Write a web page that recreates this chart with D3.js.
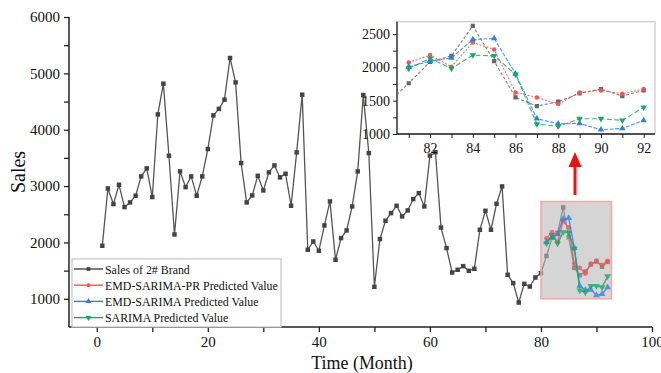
<!DOCTYPE html>
<html><head><meta charset="utf-8">
<script src="https://cdn.jsdelivr.net/npm/d3@7"></script>
<style>body{margin:0;background:#fff}svg{display:block}text{font-family:"Liberation Serif","Times New Roman",serif}</style>
</head><body><svg id="c" width="661" height="373"></svg>
<script>
const months = d3.range(1, 93);
const sales = [1941,2958,2681,3024,2628,2710,2829,3172,3314,2805,4272,4817,3539,2142,3261,2982,3172,2829,3172,3657,
4254,4370,4533,5273,4840,3409,2710,2834,3183,2923,3243,3367,3154,3219,2651,3598,4622,1870,2018,1852,
2302,2728,1692,2077,2213,2639,3261,4615,3586,1213,2060,2385,2521,2651,2462,2568,2770,2876,2639,3541,
3600,2264,1900,1467,1515,1580,1497,1533,2225,2562,2225,2686,2994,1426,1279,934,1266,1218,1378,1456,
1761,2082,2172,2621,2093,1549,1419,1484,1609,1674,1569,1654];
const predMonths = [81,82,83,84,85,86,87,88,89,90,91,92];
const emdPR = [2073,2183,2008,2373,2268,1624,1549,1449,1624,1654,1604,1674];
const emd = [2008,2093,2143,2418,2433,1903,1229,1154,1159,1064,1084,1204];
const sarima = [1983,2133,1983,2183,2173,1893,1150,1115,1229,1229,1204,1399];
const seriesNames = ["Sales of 2# Brand","EMD-SARIMA-PR Predicted Value","EMD-SARIMA Predicted Value","SARIMA Predicted Value"];
const xTicks = [0,20,40,60,80,100];
const yTicks = [1000,2000,3000,4000,5000,6000];
const insetXTicks = [82,84,86,88,90,92];
const insetYTicks = [1000,1500,2000,2500];

const colors = ["#444","#f25555","#2f7fe0","#16a868"];
const shapes = [d3.symbolSquare,d3.symbolCircle,d3.symbolTriangle,"down"];
const svg = d3.select("#c");

const x = d3.scaleLinear().domain([-5,100]).range([69,652]);
const y = d3.scaleLinear().domain([500,6000]).range([327,17]);

function marker(g, shapeIdx, cx, cy, size, color){
  const s = shapes[shapeIdx];
  if (s === "down"){
    g.append("path").attr("d", d3.symbol(d3.symbolTriangle, size)())
     .attr("transform",`translate(${cx},${cy}) rotate(180)`).attr("fill",color);
  } else {
    g.append("path").attr("d", d3.symbol(s, size)())
     .attr("transform",`translate(${cx},${cy})`).attr("fill",color);
  }
}
function squeeze(sel, f){
  sel.each(function(){ const w = this.getComputedTextLength(); d3.select(this).attr("textLength", w*f).attr("lengthAdjust","spacingAndGlyphs"); });
}

// axes
const xAxis = d3.axisBottom(x).tickValues(d3.range(0,101,10)).tickSize(5).tickFormat(d=> xTicks.includes(d)? d : "");
const gx = svg.append("g").attr("transform","translate(0,327)").call(xAxis);
gx.select(".domain").attr("stroke","#222").attr("stroke-width",1.5).attr("d","M69,0H652");
gx.selectAll(".tick line").attr("stroke","#222").attr("stroke-width",1.3);
gx.selectAll(".tick text").attr("font-size",15).attr("fill","#111").attr("dy","0.8em");

const yAxis = d3.axisLeft(y).tickValues(d3.range(1000,6001,500)).tickSize(5).tickPadding(4).tickFormat(d=> yTicks.includes(d)? d : "");
const gy = svg.append("g").attr("transform","translate(69,0)").call(yAxis);
gy.select(".domain").attr("stroke","#222").attr("stroke-width",1.5).attr("d","M0,17V327");
gy.selectAll(".tick line").attr("stroke","#222").attr("stroke-width",1.3);
gy.selectAll(".tick text").attr("font-size",15).attr("fill","#111");

svg.append("text").attr("transform","translate(25,172) rotate(-90)").attr("text-anchor","middle")
  .attr("font-size",20).attr("fill","#111").text("Sales");
svg.append("text").attr("x",362).attr("y",369).attr("text-anchor","middle")
  .attr("font-size",19.5).attr("fill","#111").text("Time (Month)").call(squeeze,0.92);

// main series
const line = d3.line().x((d,i)=>x(d[0])).y(d=>y(d[1]));
const salesData = months.map((m,i)=>[m,sales[i]]);
svg.append("path").attr("d",line(salesData)).attr("fill","none").attr("stroke","#555").attr("stroke-width",1.3);
const gm = svg.append("g");
salesData.forEach(d=>marker(gm,0,x(d[0]),y(d[1]),20,"#444"));

// gray zoom box
svg.append("rect").attr("x",x(80)).attr("y",y(2727)).attr("width",x(92.7)-x(80)).attr("height",y(1000)-y(2727))
  .attr("fill","rgb(185,185,185)").attr("fill-opacity",0.6).attr("stroke","#f6a6a6").attr("stroke-width",1.5);

const preds = [emdPR, emd, sarima];
preds.forEach((arr,k)=>{
  const data = predMonths.map((m,i)=>[m,arr[i]]);
  const g = svg.append("g").attr("opacity",0.8);
  g.append("path").attr("d",line(data)).attr("fill","none").attr("stroke",colors[k+1]).attr("stroke-width",1.4);
  data.forEach(d=>marker(g,k+1,x(d[0]),y(d[1]),k===0?18:20,colors[k+1]));
});

// red arrow
svg.append("line").attr("x1",575).attr("x2",575).attr("y1",195).attr("y2",165).attr("stroke","#f01010").attr("stroke-width",3);
svg.append("path").attr("d","M568.5,167 L575,152 L581.5,167 Z").attr("fill","#f01010");

// legend
const lg = svg.append("g");
lg.append("rect").attr("x",72).attr("y",259).attr("width",209).attr("height",68).attr("fill","#fff").attr("stroke","#c4c4c4").attr("stroke-width",1.2);
seriesNames.forEach((n,i)=>{
  const yy = 269 + i*16.2;
  lg.append("line").attr("x1",74).attr("x2",103).attr("y1",yy).attr("y2",yy).attr("stroke",colors[i]).attr("stroke-width",1.4);
  marker(lg,i,88.5,yy,i===1?12:14,colors[i]);
  lg.append("text").attr("x",105).attr("y",yy+4.5).attr("font-size",13.5).attr("fill","#111").text(n).call(squeeze,0.88);
});

// inset
const ix = d3.scaleLinear().domain([80.45,92.53]).range([397,655]);
const iy = d3.scaleLinear().domain([1000,2684]).range([134,21.7]);
const ins = svg.append("g");
ins.append("rect").attr("x",397).attr("y",21.7).attr("width",258).attr("height",112.3).attr("fill","#fff").attr("stroke","#c8c8c8").attr("stroke-width",1.2);
svg.append("clipPath").attr("id","ic").append("rect").attr("x",397).attr("y",21.7).attr("width",258).attr("height",112.3);
const iaxX = d3.axisBottom(ix).tickValues(d3.range(81,93)).tickSize(4).tickFormat(d=> insetXTicks.includes(d)? d : "");
const gix = ins.append("g").attr("transform","translate(0,134)").call(iaxX);
gix.select(".domain").attr("stroke","#222").attr("stroke-width",1.3).attr("d","M397,0H655");
gix.selectAll(".tick line").attr("stroke","#222");
gix.selectAll(".tick text").attr("font-size",14).attr("fill","#111").attr("dy","0.85em");
const iaxY = d3.axisLeft(iy).tickValues(d3.range(1000,2501,250)).tickSize(4).tickPadding(3).tickFormat(d=> insetYTicks.includes(d)? d : "");
const giy = ins.append("g").attr("transform","translate(397,0)").call(iaxY);
giy.select(".domain").attr("stroke","#222").attr("stroke-width",1.3).attr("d","M0,21.7V134");
giy.selectAll(".tick line").attr("stroke","#222");
giy.selectAll(".tick text").attr("font-size",14).attr("fill","#111");

const iline = d3.line().x(d=>ix(d[0])).y(d=>iy(d[1]));
const ig = ins.append("g").attr("clip-path","url(#ic)");
const dashes = ["3,2","2,1.6","4,1.5","5,2.5"];
const insetSales = salesData.filter(d=>d[0]>=79);
const allSeries = [insetSales, ...preds.map(arr=>predMonths.map((m,i)=>[m,arr[i]]))];
allSeries.forEach((data,k)=>{
  const col = k===0? "#666" : colors[k];
  ig.append("path").attr("d",iline(data)).attr("fill","none").attr("stroke",col).attr("stroke-width",1.1).attr("stroke-dasharray",dashes[k]).attr("opacity",0.85);
  data.filter(d=>d[0]>=81).forEach(d=>marker(ig,k,ix(d[0]),iy(d[1]),k===1?16:18,col));
});
</script></body></html>
